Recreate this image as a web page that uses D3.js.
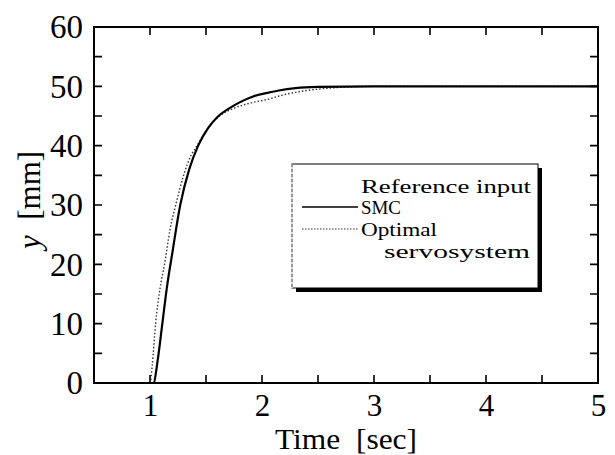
<!DOCTYPE html>
<html><head><meta charset="utf-8">
<script src="https://cdn.jsdelivr.net/npm/d3@7"></script>
<style>body{margin:0;background:#fff}svg{display:block}text{font-family:"Liberation Serif","Times New Roman",serif;fill:#000}</style>
</head><body><div id="c"></div>
<script>
const xTicks = [1, 2, 3, 4, 5];
const yTicks = [0, 10, 20, 30, 40, 50, 60];
const smcT = [0.5, 1.0, 1.03, 1.07, 1.11, 1.15, 1.2, 1.27, 1.35, 1.43, 1.52, 1.6, 1.7, 1.8, 1.92, 2.05, 2.15, 2.3, 2.5, 3, 3.5, 4, 4.5, 5];
const smcY = [0, 0, 0, 4, 10, 16, 22, 30, 36, 40, 43, 44.8, 46.2, 47.3, 48.3, 48.9, 49.3, 49.7, 49.9, 50, 50, 50, 50, 50];
const optT = [0.5, 1.0, 1.02, 1.05, 1.09, 1.13, 1.18, 1.23, 1.3, 1.37, 1.42, 1.5, 1.62, 1.75, 1.9, 2.05, 2.2, 2.4, 2.6, 3, 3.5, 4, 4.5, 5];
const optY = [0, 0, 3, 10, 16, 20, 26, 30, 35, 38.5, 40, 42.5, 45, 46.3, 47.2, 47.8, 48.6, 49.3, 49.7, 50, 50, 50, 50, 50];
const legendLabels = ["Reference input", "SMC", "Optimal", "servosystem"];

const W = 615, H = 455;
const m = {l: 94, r: 17, t: 27, b: 72};
const svg = d3.select("#c").append("svg").attr("width", W).attr("height", H);
const x = d3.scaleLinear().domain([0.5, 5]).range([m.l, W - m.r]);
const y = d3.scaleLinear().domain([0, 60]).range([H - m.b, m.t]);

const minorX = [0.5, 1, 1.5, 2, 2.5, 3, 3.5, 4, 4.5, 5];
const minorY = [0, 5, 10, 15, 20, 25, 30, 35, 40, 45, 50, 55, 60];
const tl = 8;

// labels
svg.append("g").attr("transform", `translate(0,${y(0)})`)
  .call(d3.axisBottom(x).tickValues(xTicks).tickSize(0).tickPadding(11).tickFormat(d3.format("d")))
  .call(g => g.select(".domain").remove())
  .selectAll("text").attr("font-size", 31).attr("font-family", "Liberation Serif");
svg.append("g").attr("transform", `translate(${x(0.5)},0)`)
  .call(d3.axisLeft(y).tickValues(yTicks).tickSize(0).tickPadding(11).tickFormat(d3.format("d")))
  .call(g => g.select(".domain").remove())
  .selectAll("text").attr("font-size", 33).attr("font-family", "Liberation Serif").attr("dy", "0.33em");

// lines
const line = d3.line().x(d => x(d[0])).y(d => y(d[1])).curve(d3.curveMonotoneX);
svg.append("path").datum(optT.map((t, i) => [t, optY[i]]))
  .attr("d", line).attr("fill", "none").attr("stroke", "#333").attr("stroke-width", 1.4).attr("stroke-dasharray", "1.5,2");
svg.append("path").datum(smcT.map((t, i) => [t, smcY[i]]))
  .attr("d", line).attr("fill", "none").attr("stroke", "#000").attr("stroke-width", 2.2);

// frame
svg.append("rect").attr("x", x(0.5)).attr("y", y(60)).attr("width", x(5) - x(0.5)).attr("height", y(0) - y(60))
  .attr("fill", "none").attr("stroke", "#000").attr("stroke-width", 2);

// inward ticks
const tickPaths = [];
minorX.forEach(v => {
  tickPaths.push(`M${x(v)},${y(0)}V${y(0) - tl}`);
  tickPaths.push(`M${x(v)},${y(60)}V${y(60) + tl}`);
});
minorY.forEach(v => {
  tickPaths.push(`M${x(0.5)},${y(v)}H${x(0.5) + tl}`);
  tickPaths.push(`M${x(5)},${y(v)}H${x(5) - tl}`);
});
svg.append("path").attr("d", tickPaths.join("")).attr("fill", "none").attr("stroke", "#000").attr("stroke-width", 1.6);

// legend
const lg = {x: 292, y: 164, w: 246, h: 124};
svg.append("rect").attr("x", lg.x + 4).attr("y", lg.y + 4).attr("width", lg.w).attr("height", lg.h).attr("fill", "#000");
svg.append("rect").attr("x", lg.x).attr("y", lg.y).attr("width", lg.w).attr("height", lg.h).attr("fill", "#fff").attr("stroke", "#000").attr("stroke-width", 1);
svg.append("line").attr("x1", lg.x).attr("x2", lg.x).attr("y1", lg.y).attr("y2", lg.y + lg.h).attr("stroke", "#fff").attr("stroke-width", 1.5);
svg.append("line").attr("x1", lg.x).attr("x2", lg.x).attr("y1", lg.y).attr("y2", lg.y + lg.h).attr("stroke", "#555").attr("stroke-width", 1).attr("stroke-dasharray", "3,2");
const lt = svg.append("g").attr("font-size", 19);
lt.append("text").attr("x", 361).attr("y", 193).attr("textLength", 170).attr("lengthAdjust", "spacingAndGlyphs").text(legendLabels[0]);
lt.append("text").attr("x", 361).attr("y", 214).attr("textLength", 40).attr("lengthAdjust", "spacingAndGlyphs").text(legendLabels[1]);
lt.append("text").attr("x", 361).attr("y", 236).attr("textLength", 76).attr("lengthAdjust", "spacingAndGlyphs").text(legendLabels[2]);
lt.append("text").attr("x", 384).attr("y", 258).attr("textLength", 146).attr("lengthAdjust", "spacingAndGlyphs").text(legendLabels[3]);
svg.append("line").attr("x1", 302).attr("x2", 358).attr("y1", 207).attr("y2", 207).attr("stroke", "#000").attr("stroke-width", 1.6);
svg.append("line").attr("x1", 302).attr("x2", 358).attr("y1", 229).attr("y2", 229).attr("stroke", "#333").attr("stroke-width", 1.2).attr("stroke-dasharray", "1.5,1.5");

// axis titles
svg.append("text").attr("x", 346).attr("y", 449).attr("text-anchor", "middle").attr("font-size", 29)
  .attr("textLength", 142).attr("lengthAdjust", "spacingAndGlyphs")
  .html('Time&#160;&#160;[sec]');
const yl = svg.append("text").attr("transform", `translate(40,200) rotate(-90)`).attr("text-anchor", "middle").attr("font-size", 31);
yl.append("tspan").attr("font-style", "italic").text("y");
yl.append("tspan").text("\u00a0\u00a0[mm]");
</script></body></html>
